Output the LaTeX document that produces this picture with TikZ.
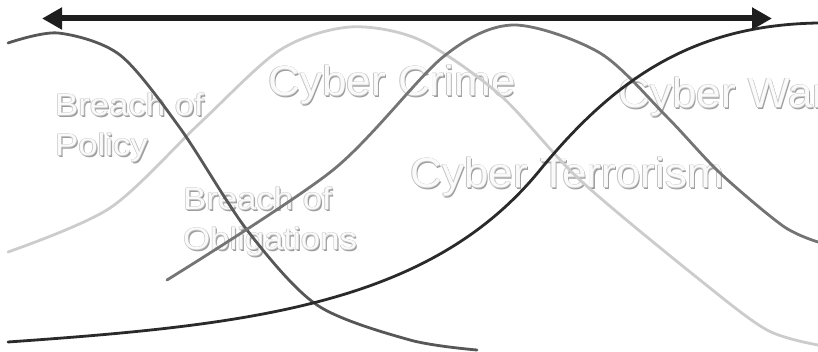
\documentclass[tikz,border=0pt]{standalone}
\usepackage{fontspec}
\setmainfont{Liberation Sans}
\usetikzlibrary{arrows.meta}

\definecolor{txfill}{HTML}{FAFAFA}
\definecolor{txedge}{HTML}{C4C4C4}
\definecolor{txshadow}{HTML}{9C9C9C}
\definecolor{policyline}{HTML}{575757}
\definecolor{crimeline}{HTML}{CCCCCC}
\definecolor{obligline}{HTML}{747474}
\definecolor{warline}{HTML}{2A2A2A}
\definecolor{axisline}{HTML}{1E1E1E}

% embossed lettering: drop shadow, thin grey rim, pale face
\newcommand\emb[1]{%
  \makebox[0pt][l]{\kern1.3pt\raisebox{-1.3pt}{\color{txshadow}#1}}%
  \makebox[0pt][l]{\kern-0.6pt\color{txedge}#1}%
  \makebox[0pt][l]{\kern0.6pt\color{txedge}#1}%
  \makebox[0pt][l]{\raisebox{0.6pt}{\color{txedge}#1}}%
  \makebox[0pt][l]{\raisebox{-0.6pt}{\color{txedge}#1}}%
  {\color{txfill}#1}}

\tikzset{
  smalllabel/.style={anchor=base west, inner sep=0pt,
    font=\fontsize{31}{31}\selectfont},
  biglabel/.style={anchor=base west, inner sep=0pt,
    font=\fontsize{42}{42}\selectfont},
  curve/.style={line width=2.8pt, line cap=round, line join=round},
  axis/.style={line width=6pt, draw=axisline,
    {Triangle[length=20pt,width=21pt]}-{Triangle[length=20pt,width=21pt]}}
}

\begin{document}
\begin{tikzpicture}[x=1pt,y=-1pt]
\useasboundingbox (0,0) rectangle (818,352);
\clip (0,0) rectangle (818,352);

% labels
\node[smalllabel] (policyA) at (55,116) {\scalebox{1.12}[1]{\emb{Breach of}}};
\node[smalllabel] (policyB) at (55,156) {\scalebox{1.12}[1]{\emb{Policy}}};
\node[smalllabel] (obligA) at (183,210) {\scalebox{1.12}[1]{\emb{Breach of}}};
\node[smalllabel] (obligB) at (183,250) {\scalebox{1.12}[1]{\emb{Obligations}}};
\node[biglabel] (crime) at (268,96) {\scalebox{1.05}[1]{\emb{Cyber Crime}}};
\node[biglabel] (terror) at (410,188) {\scalebox{1.05}[1]{\emb{Cyber Terrorism}}};
\node[biglabel] (war) at (618,108) {\scalebox{1.05}[1]{\emb{Cyber War}}};

% curves
\draw[curve, draw=crimeline] plot[smooth] coordinates {
  (8,252) (110,208) (200,123) (280,50) (350,27) (420,40) (500,95)
  (580,180) (700,280) (767,330) (818,345)};
\draw[curve, draw=policyline] plot[smooth] coordinates {
  (8,43) (58,33) (120,55) (180,128) (247,230) (317,305) (410,340)
  (477,350)};
\draw[curve, draw=obligline] plot[smooth] coordinates {
  (167,280) (333,170) (443,57) (513,25) (600,53) (667,117) (720,173)
  (783,226) (818,242)};
\draw[curve, draw=warline] (8,342)
  .. controls (250,325) and (430,305) .. (540,170)
  .. controls (620,72) and (700,25) .. (818,23);

% time axis
\coordinate (lend) at (42,18.5);
\coordinate (rend) at (772,18.5);
\draw[axis] (lend) -- (rend);
\end{tikzpicture}
\end{document}
